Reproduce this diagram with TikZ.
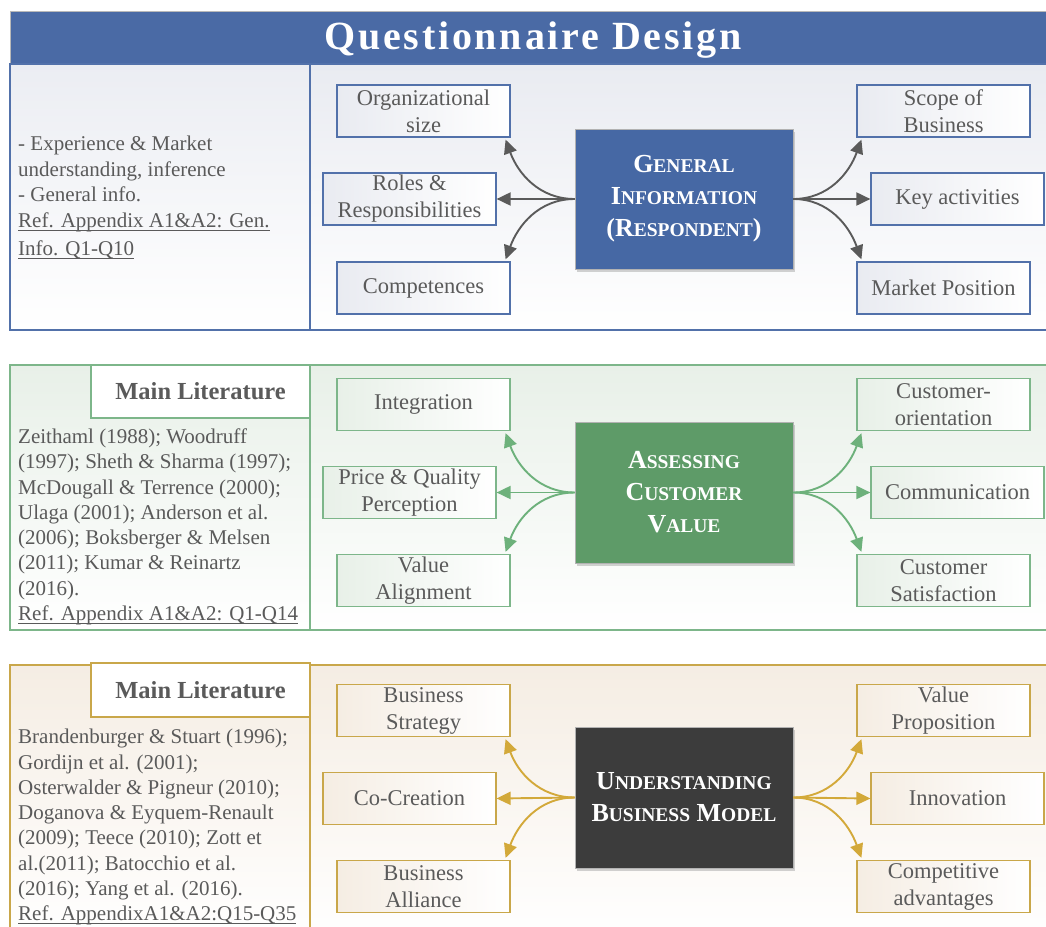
\documentclass[tikz,border=0pt]{standalone}
\usepackage{fontspec}
\setmainfont{Liberation Serif}
\newfontfamily\titlefont[LetterSpace=7]{Liberation Serif}
\usetikzlibrary{arrows.meta,shadows}
\definecolor{tblue}{HTML}{4A6AA5}
\definecolor{cblue}{HTML}{4668A4}
\definecolor{bline}{HTML}{5271AA}
\definecolor{agray}{HTML}{5A5A5A}
\definecolor{gline}{HTML}{7DB68A}
\definecolor{cgreen}{HTML}{5E9B68}
\definecolor{garrow}{HTML}{6DB17B}
\definecolor{yline}{HTML}{C9A74A}
\definecolor{yarrow}{HTML}{D3A93A}
\definecolor{cdark}{HTML}{3C3C3C}
\definecolor{tgray}{HTML}{5A5A5A}
\definecolor{bgA}{HTML}{E9EBF1}
\definecolor{bgB}{HTML}{E8F0E8}
\definecolor{bgC}{HTML}{F5EDE3}
\newcommand\bigsc[2]{{\fontsize{26}{32}\selectfont #1}{\fontsize{19.5}{32}\selectfont #2}}
\newcommand\bsc[1]{{\fontsize{26}{32}\selectfont #1}}
\newcommand\ssc[1]{{\fontsize{19.5}{32}\selectfont #1}}
\newcommand\ulin[1]{\setbox0\hbox{#1}\rlap{\rule[-3pt]{\wd0}{0.9pt}}\box0}
\begin{document}
\begin{tikzpicture}[x=1pt,y=1pt,
  sbox/.style={draw=#1, line width=1.2pt, minimum width=173pt, minimum height=52pt,
    align=center, inner sep=1pt, font=\fontsize{22.5}{27}\selectfont, text=tgray},
  cbox/.style={fill=#1, draw=gray!60, line width=0.6pt, minimum width=218pt, minimum height=140pt,
    align=center, text=white, font=\fontsize{26}{32}\selectfont\bfseries,
    drop shadow={shadow xshift=2pt, shadow yshift=-3pt, opacity=0.35}},
  mlbox/.style={draw=#1, line width=1.2pt, fill=white, minimum width=219pt, minimum height=53pt,
    text=tgray, font=\fontsize{24.5}{28}\selectfont\bfseries},
  lefttext/.style={anchor=north west, inner sep=0pt, align=left, text=tgray,
    font=\fontsize{21}{25.3}\selectfont},
  arr/.style={line width=1.9pt, draw=#1, -{Triangle[length=14pt,width=13pt,fill=#1]}},
  frame/.style={draw=#1, line width=1.2pt}
]
\useasboundingbox (0,0) rectangle (1046,-926);
\clip (0,0) rectangle (1046,-926);

% ---------- title ----------
\path[fill=tblue, draw=gray!55, line width=0.8pt] (10,-11) rectangle (1060,-64);
\node[text=white, font=\titlefont\fontsize{40}{44}\selectfont\bfseries] (title) at (533,-40) {Questionnaire Design};

% ---------- section 1 ----------
\path[top color=bgA, bottom color=white] (310,-64) rectangle (1060,-330);
\path[top color=bgA!90, bottom color=white] (10,-64) rectangle (310,-330);
\draw[frame=bline] (10,-64) rectangle (1060,-330);
\draw[frame=bline] (310,-64) -- (310,-330);
\node[lefttext] (t1) at (18,-136) {- Experience \& Market\\understanding, inference\\- General info.\\[1pt]\ulin{Ref. Appendix A1\&A2: Gen.}\\[3pt]\ulin{Info. Q1-Q10}};

\node[sbox=bline, left color=bgA, right color=white] (a1) at (423.5,-111) {Organizational\\size};
\node[sbox=bline, left color=bgA, right color=white] (a2) at (409.5,-199) {Roles \&\\Responsibilities};
\node[sbox=bline, left color=bgA, right color=white] (a3) at (423.5,-288) {Competences};
\node[sbox=bline, left color=bgA, right color=white] (a4) at (943.5,-111) {Scope of\\Business};
\node[sbox=bline, left color=bgA, right color=white] (a5) at (957.5,-199) {Key activities};
\node[sbox=bline, left color=bgA, right color=white] (a6) at (943.5,-288) {Market Position};
\node[cbox=cblue] (ca) at (684,-199) {\bigsc{G}{ENERAL}\\\bigsc{I}{NFORMATION}\\\bsc{(R}\ssc{ESPONDENT}\bsc{)}};

\draw[arr=agray] (ca.west) to[out=180,in=-70] ([xshift=-5pt,yshift=-2pt]a1.south east);
\draw[arr=agray] (ca.west) -- (a2.east);
\draw[arr=agray] (ca.west) to[out=180,in=70] ([xshift=-5pt,yshift=2pt]a3.north east);
\draw[arr=agray] (ca.east) to[out=0,in=-110] ([xshift=5pt,yshift=-2pt]a4.south west);
\draw[arr=agray] (ca.east) -- (a5.west);
\draw[arr=agray] (ca.east) to[out=0,in=110] ([xshift=5pt,yshift=2pt]a6.north west);

% ---------- section 2 ----------
\path[top color=bgB, bottom color=white] (310,-365) rectangle (1060,-630);
\path[top color=bgB, bottom color=white] (10,-365) rectangle (310,-630);
\draw[frame=gline] (10,-365) rectangle (1060,-630);
\draw[frame=gline] (310,-365) -- (310,-630);
\node[mlbox=gline] (ml2) at (200.5,-391.5) {Main Literature};
\node[lefttext] (t2) at (18,-428.5) {Zeithaml (1988); Woodruff\\(1997); Sheth \& Sharma (1997);\\McDougall \& Terrence (2000);\\Ulaga (2001); Anderson et al.\\(2006); Boksberger \& Melsen\\(2011); Kumar \& Reinartz\\(2016).\\\ulin{Ref. Appendix A1\&A2: Q1-Q14}};

\node[sbox=gline, left color=bgB, right color=white] (b1) at (423.5,-404.5) {Integration};
\node[sbox=gline, left color=bgB, right color=white] (b2) at (409.5,-492.5) {Price \& Quality\\Perception};
\node[sbox=gline, left color=bgB, right color=white] (b3) at (423.5,-580.5) {Value\\Alignment};
\node[sbox=gline, left color=bgB, right color=white] (b4) at (943.5,-404.5) {Customer-\\orientation};
\node[sbox=gline, left color=bgB, right color=white] (b5) at (957.5,-492.5) {Communication};
\node[sbox=gline, left color=bgB, right color=white] (b6) at (943.5,-580.5) {Customer\\Satisfaction};
\node[cbox=cgreen, minimum height=141pt] (cb) at (684,-492.5) {\bigsc{A}{SSESSING}\\\bigsc{C}{USTOMER}\\\bigsc{V}{ALUE}};

\draw[arr=garrow] (cb.west) to[out=180,in=-70] ([xshift=-5pt,yshift=-2pt]b1.south east);
\draw[arr=garrow] (cb.west) -- (b2.east);
\draw[arr=garrow] (cb.west) to[out=180,in=70] ([xshift=-5pt,yshift=2pt]b3.north east);
\draw[arr=garrow] (cb.east) to[out=0,in=-110] ([xshift=5pt,yshift=-2pt]b4.south west);
\draw[arr=garrow] (cb.east) -- (b5.west);
\draw[arr=garrow] (cb.east) to[out=0,in=110] ([xshift=5pt,yshift=2pt]b6.north west);

% ---------- section 3 ----------
\path[top color=bgC, bottom color=white] (310,-665) rectangle (1060,-940);
\path[top color=bgC, bottom color=white] (10,-665) rectangle (310,-940);
\draw[frame=yline] (10,-665) rectangle (1060,-940);
\draw[frame=yline] (310,-665) -- (310,-940);
\node[mlbox=yline, minimum height=54pt] (ml3) at (200.5,-690) {Main Literature};
\node[lefttext] (t3) at (18,-729) {Brandenburger \& Stuart (1996);\\Gordijn et al. (2001);\\Osterwalder \& Pigneur (2010);\\Doganova \& Eyquem-Renault\\(2009); Teece (2010); Zott et\\al.(2011); Batocchio et al.\\(2016); Yang et al. (2016).\\\ulin{Ref. AppendixA1\&A2:Q15-Q35}};

\node[sbox=yline, left color=bgC, right color=white] (d1) at (423.5,-710.5) {Business\\Strategy};
\node[sbox=yline, left color=bgC, right color=white] (d2) at (409.5,-798.5) {Co-Creation};
\node[sbox=yline, left color=bgC, right color=white] (d3) at (423.5,-886.5) {Business\\Alliance};
\node[sbox=yline, left color=bgC, right color=white] (d4) at (943.5,-710.5) {Value\\Proposition};
\node[sbox=yline, left color=bgC, right color=white] (d5) at (957.5,-798.5) {Innovation};
\node[sbox=yline, left color=bgC, right color=white] (d6) at (943.5,-886.5) {Competitive\\advantages};
\node[cbox=cdark, minimum height=141pt] (cd) at (684,-797.5) {\bigsc{U}{NDERSTANDING}\\\bigsc{B}{USINESS} \bigsc{M}{ODEL}};

\draw[arr=yarrow] (cd.west) to[out=180,in=-70] ([xshift=-5pt,yshift=-2pt]d1.south east);
\draw[arr=yarrow] (cd.west) -- (d2.east);
\draw[arr=yarrow] (cd.west) to[out=180,in=70] ([xshift=-5pt,yshift=2pt]d3.north east);
\draw[arr=yarrow] (cd.east) to[out=0,in=-110] ([xshift=5pt,yshift=-2pt]d4.south west);
\draw[arr=yarrow] (cd.east) -- (d5.west);
\draw[arr=yarrow] (cd.east) to[out=0,in=110] ([xshift=5pt,yshift=2pt]d6.north west);
\end{tikzpicture}
\end{document}
